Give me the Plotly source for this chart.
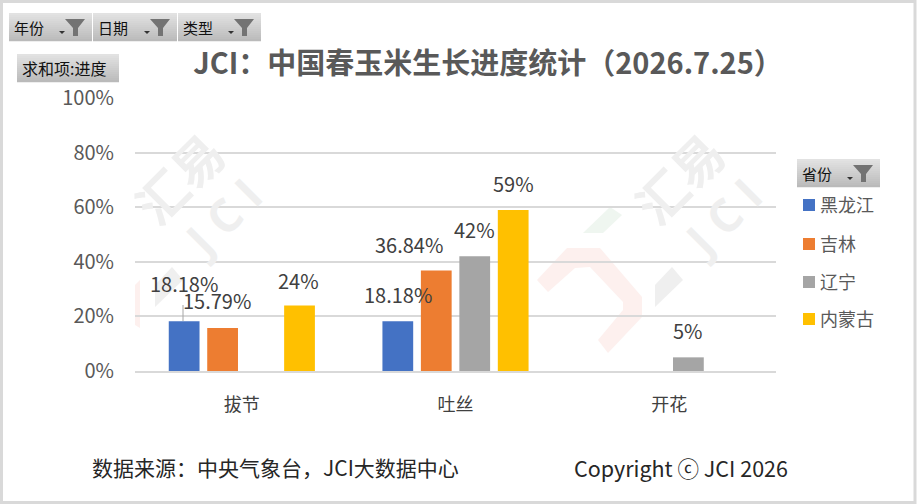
import plotly.graph_objects as go

# 数据
categories = ["拔节", "吐丝", "开花"]
provinces = ["黑龙江", "吉林", "辽宁", "内蒙古"]
heilongjiang = [0.1818, 0.1818, None]
jilin = [0.1579, 0.3684, None]
liaoning = [None, 0.42, 0.05]
neimenggu = [0.24, 0.59, None]
tick_vals = [0, 0.2, 0.4, 0.6, 0.8, 1.0]
tick_text = ["0%", "20%", "40%", "60%", "80%", "100%"]
colors = ["#4472C4", "#ED7D31", "#A5A5A5", "#FFC000"]
series = [heilongjiang, jilin, liaoning, neimenggu]

# 标签偏移 (系列, 类别) -> (dx, dy)
label_shift = {
    (0, 0): (-58, 38), (1, 0): (-25, 27), (3, 0): (57, 25),
    (0, 1): (-58, 27), (1, 1): (-47, 26), (2, 1): (19, 27), (3, 1): (58, 26),
    (2, 2): (19, 27),
}

W, H = 917, 504
L, R, T, B = 135, 776, 98, 371
FONT = "Noto Sans CJK SC"


def px(x):
    return (x - L) / (R - L)


def py(y):
    return (B - y) / (B - T)


def poly(points, dx=0):
    return "M" + "L".join(f"{px(a + dx)},{py(b)}" for a, b in points) + "Z"


def rect(x0, y0, x1, y1, color, layer="above", line=None):
    return dict(type="rect", xref="paper", yref="paper", x0=px(x0), x1=px(x1), y0=py(y0), y1=py(y1),
                fillcolor=color, line=line or dict(width=0), layer=layer)


def text_at(x, y, text, size, color, family=FONT, xanchor="left", angle=0):
    return dict(xref="paper", yref="paper", x=px(x), y=py(y), text=text, xanchor=xanchor, yanchor="middle",
                showarrow=False, textangle=angle, font=dict(size=size, color=color, family=family))


fig = go.Figure()
for name, vals, c in zip(provinces, series, colors):
    fig.add_trace(go.Bar(x=categories, y=vals, name=name, marker_color=c, marker_line_width=0, showlegend=False))

annotations = []
shapes = []

# 数据标签
for (s, k), (dx, dy) in label_shift.items():
    v = series[s][k]
    txt = f"{v * 100:.2f}%" if s < 2 and v * 100 % 1 > 0 else f"{v * 100:.0f}%"
    annotations.append(dict(x=categories[k], y=v, xref="x", yref="y", text=txt, showarrow=False,
                            xshift=dx, yshift=dy, font=dict(size=20, color="#404040", family=FONT)))

# 引导线
shapes.append(dict(type="line", xref="paper", yref="paper", x0=px(183), x1=px(183), y0=py(305), y1=py(321),
                   line=dict(color="#A6A6A6", width=1)))

# 水印
wm_color = "#EFEFEF"
for dx in (0, 500):
    annotations.append(text_at(178 + dx, 177, "<b>汇易</b>", 50, wm_color, xanchor="center", angle=-45))
    annotations.append(text_at(222 + dx, 217, "<b>J C I</b>", 46, wm_color, family="Open Sans", xanchor="center", angle=-45))
    gray_piece = [(155, 307), (155, 285), (172, 267), (183, 280)]
    shapes.append(dict(type="path", xref="paper", yref="paper", path=poly(gray_piece, dx), fillcolor=wm_color,
                       line=dict(width=0), layer="below"))

red_piece = [(537, 280), (567, 248), (600, 248), (642, 297), (642, 317), (608, 353), (598, 340),
             (623, 310), (623, 302), (590, 267), (575, 268), (548, 292)]
green_piece = [(583, 233), (610, 207), (622, 215), (603, 233)]
shapes.append(dict(type="path", xref="paper", yref="paper", path=poly(red_piece), fillcolor="#FDF0EE",
                   line=dict(width=0), layer="below"))
shapes.append(dict(type="path", xref="paper", yref="paper", path=poly(green_piece), fillcolor="#EFF6F0",
                   line=dict(width=0), layer="below"))
shapes.append(dict(type="path", xref="paper", yref="paper",
                   path=poly([(135, 285), (140, 280), (140, 328), (135, 325)]), fillcolor="#FDF0EE",
                   line=dict(width=0), layer="below"))

# 外框
shapes.append(rect(1.5, 1.5, 915, 502.5, "rgba(0,0,0,0)", line=dict(color="#D9D9D9", width=3)))


# 字段按钮
def field_button(x0, y0, x1, y1, label, funnel=True, size=15):
    steps = 14
    h = (y1 - y0) / steps
    for i in range(steps):
        g = 226 - int(i * 40 / (steps - 1))
        shapes.append(rect(x0, y0 + i * h, x1, y0 + (i + 1) * h + 0.3, f"rgb({g},{g},{g})"))
    annotations.append(text_at(x0 + 3, (y0 + y1) / 2, label, size, "#111111"))
    if funnel:
        fx = x1 - 27
        shapes.append(dict(type="path", xref="paper", yref="paper",
                           path=poly([(fx, y0 + 6), (fx + 20, y0 + 6), (fx + 13, y0 + 15), (fx + 13, y0 + 23),
                                      (fx + 8, y0 + 23), (fx + 8, y0 + 15)]),
                           fillcolor="#737373", line=dict(width=0)))
        shapes.append(dict(type="path", xref="paper", yref="paper",
                           path=poly([(fx - 6, y0 + 18), (fx, y0 + 18), (fx - 3, y0 + 21)]),
                           fillcolor="#333333", line=dict(width=0)))


field_button(9, 13, 92, 41, "年份")
field_button(93, 13, 177, 41, "日期")
field_button(178, 13, 261, 41, "类型")
field_button(17, 54, 119, 82, "求和项:进度", funnel=False, size=16)
field_button(797, 159, 880, 187, "省份")

# 图例
legend_y = [205, 244, 282, 319]
for name, c, y in zip(provinces, colors, legend_y):
    shapes.append(rect(803, y - 6, 815, y + 6, c))
    annotations.append(text_at(818, y - 1, name, 18, "#595959"))

# 底部文字
annotations.append(text_at(90, 467, "数据来源：中央气象台，JCI大数据中心", 21, "#262626"))
annotations.append(text_at(572, 467, "Copyright ⓒ JCI 2026", 21.5, "#262626"))

fig.update_layout(
    width=W, height=H,
    margin=dict(l=L, r=W - R, t=T, b=H - B),
    paper_bgcolor="white", plot_bgcolor="rgba(0,0,0,0)",
    barmode="group", bargap=0.28, bargroupgap=0.2,
    title=dict(text="<b>JCI：中国春玉米生长进度统计（2026.7.25）</b>", x=488 / W, y=1 - 64 / H, xanchor="center",
               yanchor="middle", font=dict(size=29, color="#595959", family=FONT)),
    annotations=annotations, shapes=shapes,
    xaxis=dict(showgrid=False, showline=True, linecolor="#D9D9D9", linewidth=2, ticks="", ticklabelstandoff=16,
               tickfont=dict(size=18, color="#404040", family=FONT), fixedrange=True),
    yaxis=dict(range=[0, 1], tickvals=tick_vals, ticktext=tick_text, showgrid=True, gridcolor="#D9D9D9", gridwidth=2,
               zeroline=False, ticks="", ticklabelstandoff=20, tickfont=dict(size=20, color="#595959", family=FONT),
               fixedrange=True),
)

fig.write_html("out.html", post_script="document.body.style.margin='0';", config=dict(displayModeBar=False))
